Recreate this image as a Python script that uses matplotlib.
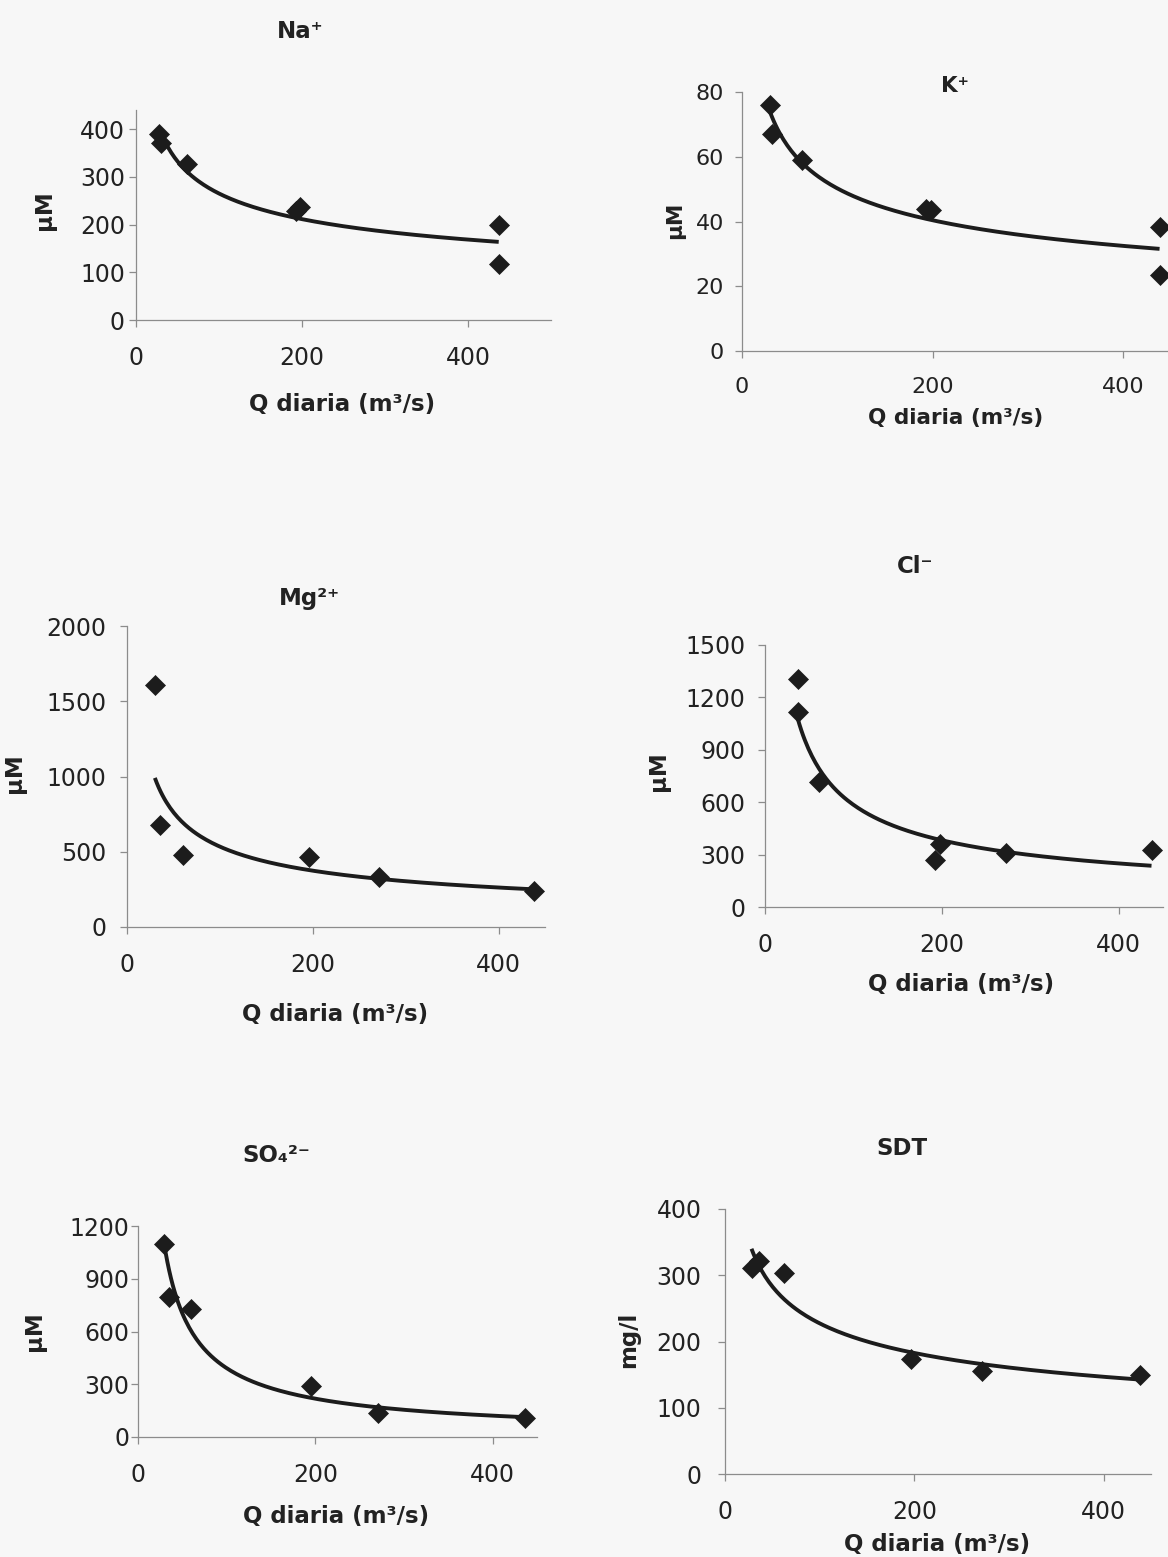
import numpy as np
import matplotlib
matplotlib.use("Agg")
import matplotlib.pyplot as plt

# --- DATA ---
na_q = [28, 30, 62, 193, 198, 437, 437]
na_c = [390, 370, 327, 228, 236, 200, 117]

k_q = [29, 31, 63, 193, 198, 438, 438]
k_c = [76, 67, 59, 44, 43.5, 38.3, 23.4]

mg_q = [30, 35, 60, 196, 271, 438]
mg_c = [1608, 681, 481, 463, 330, 237]

cl_q = [37, 37, 61, 192, 198, 272, 437]
cl_c = [1305, 1119, 718, 271, 360, 309, 328]

so4_q = [29, 35, 60, 195, 271, 437]
so4_c = [1098, 799, 727, 288, 136, 108]

sdt_q = [28, 36, 62, 197, 272, 438]
sdt_c = [311, 321, 303, 173, 156, 150]

titles = ['Na⁺', 'K⁺', 'Mg²⁺', 'Cl⁻', 'SO₄²⁻', 'SDT']
ylabels = ['µM', 'µM', 'µM', 'µM', 'µM', 'mg/l']
xlabel = 'Q diaria (m³/s)'

# --- LAYOUT (pixels of the 1168x1557 page) ---
W, H = 1168, 1557
# left, right, bottom(y0), top  in pixels
boxes = [(136, 551, 320, 110), (742, 1171, 351, 92),
         (127, 545, 927, 626), (765, 1163, 907, 645),
         (138, 537, 1437, 1226), (725, 1151, 1474, 1209)]
xmax = [500, 450, 450, 450, 450, 450]
ylims = [(0, 440), (0, 80), (0, 2000), (0, 1500), (0, 1200), (0, 400)]
ysteps = [100, 20, 500, 300, 300, 100]
ypads = [3, 8, 10, 9, 1, 12]
title_pos = [(300, 38), (955, 92), (309, 605), (915, 573), (276, 1162), (902, 1155)]
xlab_pos = [(342, 411), (956, 424), (335, 1021), (961, 991), (336, 1523), (937, 1551)]
ylab_pos = [(44, 210), (675, 220), (15, 773), (659, 771), (35, 1331), (629, 1340)]
fsize = [16.5, 15.5, 16.5, 16.5, 16.5, 16.5]

series = [(na_q, na_c), (k_q, k_c), (mg_q, mg_c),
          (cl_q, cl_c), (so4_q, so4_c), (sdt_q, sdt_c)]

INK = '#1c1c1c'
AXC = '#8c8c8c'

fig = plt.figure(figsize=(W / 100, H / 100), dpi=100, facecolor='#f7f7f7')

for i, (q, c) in enumerate(series):
    l, r, b, t = boxes[i]
    ax = fig.add_axes([l / W, 1 - b / H, (r - l) / W, (b - t) / H])
    ax.set_facecolor('none')

    # power trendline fitted in log space, like the spreadsheet one
    q = np.array(q, dtype=float)
    c = np.array(c, dtype=float)
    bexp, lna = np.polyfit(np.log(q), np.log(c), 1)
    qq = np.linspace(q.min(), q.max(), 200)
    ax.plot(qq, np.exp(lna) * qq ** bexp, color=INK, lw=2.8, zorder=3,
            clip_on=False, solid_capstyle='butt')
    ax.plot(q, c, 'D', color=INK, ms=10.5, mew=0.5, zorder=4, clip_on=False)

    ax.set_xlim(0, xmax[i])
    ax.set_ylim(*ylims[i])
    ax.set_xticks([0, 200, 400])
    ax.set_yticks(np.arange(0, ylims[i][1] + 1, ysteps[i]))
    for s in ['top', 'right']:
        ax.spines[s].set_visible(False)
    for s in ['left', 'bottom']:
        ax.spines[s].set_color(AXC)
        ax.spines[s].set_linewidth(0.9)
    ax.tick_params(axis='both', direction='out', length=5, width=0.9,
                   color=AXC, labelcolor='#222222', labelsize=fsize[i] + 0.5)
    ax.tick_params(axis='x', pad=14)
    ax.tick_params(axis='y', pad=ypads[i])

    tx, ty = title_pos[i]
    fig.text(tx / W, 1 - ty / H, titles[i], ha='center', va='baseline',
             fontsize=fsize[i], fontweight='bold', color='#222222')
    lx, ly = xlab_pos[i]
    fig.text(lx / W, 1 - ly / H, xlabel, ha='center', va='baseline',
             fontsize=fsize[i], fontweight='bold', color='#222222')
    yx, yy = ylab_pos[i]
    fig.text(yx / W, 1 - yy / H, ylabels[i], ha='center', va='center',
             rotation=90, fontsize=fsize[i], fontweight='bold', color='#222222')

fig.savefig('out.png', dpi=100, facecolor=fig.get_facecolor())
